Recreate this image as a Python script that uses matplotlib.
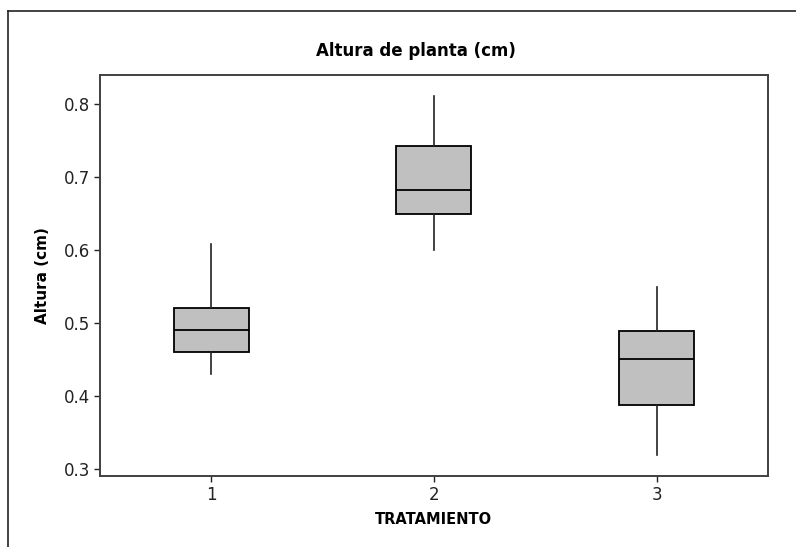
import matplotlib.pyplot as plt
from matplotlib.lines import Line2D

# box summary per treatment
tratamientos = ["1", "2", "3"]
whisker_low = [0.430, 0.600, 0.319]
q1 = [0.460, 0.649, 0.387]
medians = [0.490, 0.682, 0.451]
q3 = [0.520, 0.743, 0.489]
whisker_high = [0.609, 0.811, 0.549]

stats = []
for i, lab in enumerate(tratamientos):
    stats.append({
        "label": lab,
        "whislo": whisker_low[i],
        "q1": q1[i],
        "med": medians[i],
        "q3": q3[i],
        "whishi": whisker_high[i],
        "fliers": [],
    })

plt.rcParams['font.family'] = ['DejaVu Sans']

fig = plt.figure(figsize=(7.96, 5.47), dpi=100)
ax = fig.add_axes([0.1253, 0.1298, 0.9648 - 0.1253, 0.8623 - 0.1298])

ax.bxp(stats, positions=[1, 2, 3], widths=0.336, patch_artist=True,
       showcaps=False,
       boxprops=dict(facecolor="#c0c0c0", edgecolor="black", linewidth=1.3),
       medianprops=dict(color="black", linewidth=1.3),
       whiskerprops=dict(color="#222222", linewidth=1.2))

ax.set_xlim(0.5, 3.5)
ax.set_ylim(0.290, 0.840)
ax.set_yticks([0.3, 0.4, 0.5, 0.6, 0.7, 0.8])
ax.set_yticklabels(["0.3", "0.4", "0.5", "0.6", "0.7", "0.8"])

for s in ax.spines.values():
    s.set_color("#404040")
    s.set_linewidth(1.4)
ax.tick_params(direction="out", length=4, width=1, colors="#222222",
               labelsize=12, pad=3)

ax.set_xlabel("TRATAMIENTO", fontsize=10.5, fontweight="bold", labelpad=6)
ax.set_ylabel("Altura (cm)", fontsize=11, fontweight="bold", labelpad=10)
fig.text(0.522, 1 - 51 / 547, "Altura de planta (cm)", ha="center", va="center",
         fontsize=12, fontweight="bold")

# outer frame (only top and left edges show in the picture)
fig.add_artist(Line2D([8 / 796, 8 / 796], [0, 1 - 10.7 / 547],
                      transform=fig.transFigure, color="#222222", linewidth=1.2))
fig.add_artist(Line2D([8 / 796, 1], [1 - 10.7 / 547, 1 - 10.7 / 547],
                      transform=fig.transFigure, color="#222222", linewidth=1.2))

fig.savefig("out.png", dpi=100)
